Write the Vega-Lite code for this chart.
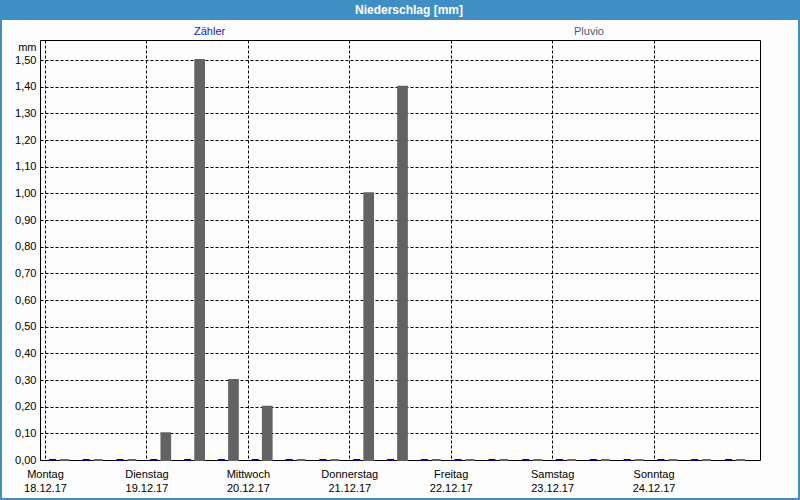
{
  "$schema": "https://vega.github.io/schema/vega-lite/v6.json",
  "width": 720,
  "height": 420,
  "autosize": {"type": "none"},
  "padding": {"left": 40, "top": 40, "right": 40, "bottom": 40},
  "background": "#fcfdfc",
  "config": {
    "font": "Liberation Sans",
    "view": {"stroke": "#000000", "strokeWidth": 1},
    "axis": {
      "labelFont": "Liberation Sans",
      "labelFontSize": 11,
      "labelColor": "#000000",
      "domain": false,
      "ticks": false,
      "grid": true,
      "gridColor": "#000000",
      "gridDash": [3, 2],
      "gridWidth": 1,
      "gridOpacity": 1
    }
  },
  "datasets": {
    "bars": [
      {"t": "2017-12-18T00:00", "series": "Zähler", "value": 0},
      {"t": "2017-12-18T08:00", "series": "Zähler", "value": 0},
      {"t": "2017-12-18T16:00", "series": "Zähler", "value": 0},
      {"t": "2017-12-19T00:00", "series": "Zähler", "value": 0},
      {"t": "2017-12-19T08:00", "series": "Zähler", "value": 0},
      {"t": "2017-12-19T16:00", "series": "Zähler", "value": 0},
      {"t": "2017-12-20T00:00", "series": "Zähler", "value": 0},
      {"t": "2017-12-20T08:00", "series": "Zähler", "value": 0},
      {"t": "2017-12-20T16:00", "series": "Zähler", "value": 0},
      {"t": "2017-12-21T00:00", "series": "Zähler", "value": 0},
      {"t": "2017-12-21T08:00", "series": "Zähler", "value": 0},
      {"t": "2017-12-21T16:00", "series": "Zähler", "value": 0},
      {"t": "2017-12-22T00:00", "series": "Zähler", "value": 0},
      {"t": "2017-12-22T08:00", "series": "Zähler", "value": 0},
      {"t": "2017-12-22T16:00", "series": "Zähler", "value": 0},
      {"t": "2017-12-23T00:00", "series": "Zähler", "value": 0},
      {"t": "2017-12-23T08:00", "series": "Zähler", "value": 0},
      {"t": "2017-12-23T16:00", "series": "Zähler", "value": 0},
      {"t": "2017-12-24T00:00", "series": "Zähler", "value": 0},
      {"t": "2017-12-24T08:00", "series": "Zähler", "value": 0},
      {"t": "2017-12-24T16:00", "series": "Zähler", "value": 0},
      {"t": "2017-12-18T00:00", "series": "Pluvio", "value": 0},
      {"t": "2017-12-18T08:00", "series": "Pluvio", "value": 0},
      {"t": "2017-12-18T16:00", "series": "Pluvio", "value": 0},
      {"t": "2017-12-19T00:00", "series": "Pluvio", "value": 0.1},
      {"t": "2017-12-19T08:00", "series": "Pluvio", "value": 1.5},
      {"t": "2017-12-19T16:00", "series": "Pluvio", "value": 0.3},
      {"t": "2017-12-20T00:00", "series": "Pluvio", "value": 0.2},
      {"t": "2017-12-20T08:00", "series": "Pluvio", "value": 0},
      {"t": "2017-12-20T16:00", "series": "Pluvio", "value": 0},
      {"t": "2017-12-21T00:00", "series": "Pluvio", "value": 1.0},
      {"t": "2017-12-21T08:00", "series": "Pluvio", "value": 1.4},
      {"t": "2017-12-21T16:00", "series": "Pluvio", "value": 0},
      {"t": "2017-12-22T00:00", "series": "Pluvio", "value": 0},
      {"t": "2017-12-22T08:00", "series": "Pluvio", "value": 0},
      {"t": "2017-12-22T16:00", "series": "Pluvio", "value": 0},
      {"t": "2017-12-23T00:00", "series": "Pluvio", "value": 0},
      {"t": "2017-12-23T08:00", "series": "Pluvio", "value": 0},
      {"t": "2017-12-23T16:00", "series": "Pluvio", "value": 0},
      {"t": "2017-12-24T00:00", "series": "Pluvio", "value": 0},
      {"t": "2017-12-24T08:00", "series": "Pluvio", "value": 0},
      {"t": "2017-12-24T16:00", "series": "Pluvio", "value": 0}
    ]
  },
  "data": {"name": "bars"},
  "encoding": {
    "x": {
      "field": "t",
      "type": "temporal",
      "scale": {
        "domain": [{"year": 2017, "month": 12, "date": 18}, {"year": 2017, "month": 12, "date": 25}],
        "nice": false
      },
      "axis": {
        "title": null,
        "values": [
          {"year": 2017, "month": 12, "date": 18},
          {"year": 2017, "month": 12, "date": 19},
          {"year": 2017, "month": 12, "date": 20},
          {"year": 2017, "month": 12, "date": 21},
          {"year": 2017, "month": 12, "date": 22},
          {"year": 2017, "month": 12, "date": 23},
          {"year": 2017, "month": 12, "date": 24}
        ],
        "labelExpr": "[['Sonntag','Montag','Dienstag','Mittwoch','Donnerstag','Freitag','Samstag'][day(datum.value)], timeFormat(datum.value, '%d.%m.%y')]",
        "labelAlign": "center",
        "labelBaseline": "top",
        "labelPadding": 8,
        "labelLineHeight": 14,
        "labelOverlap": false,
        "labelFlush": false,
        "labelBound": false
      }
    },
    "y": {
      "field": "value",
      "type": "quantitative",
      "scale": {"domain": [0, 1.575], "nice": false},
      "axis": {
        "values": [0, 0.1, 0.2, 0.3, 0.4, 0.5, 0.6, 0.7, 0.8, 0.9, 1.0, 1.1, 1.2, 1.3, 1.4, 1.5],
        "labelExpr": "replace(format(datum.value, '.2f'), '.', ',')",
        "labelPadding": 4,
        "labelOverlap": false,
        "title": "mm",
        "titleAngle": 0,
        "titleAlign": "right",
        "titleBaseline": "middle",
        "titleX": -4,
        "titleY": 7,
        "titleFont": "Liberation Sans",
        "titleFontSize": 11,
        "titleFontWeight": "normal",
        "titleColor": "#000000"
      }
    }
  },
  "layer": [
    {
      "transform": [{"filter": "datum.series === 'Zähler'"}],
      "mark": {"type": "bar", "width": 7, "xOffset": 7.4, "stroke": "#00009c", "strokeWidth": 2},
      "encoding": {
        "color": {
          "field": "series",
          "type": "nominal",
          "scale": {"domain": ["Zähler", "Pluvio"], "range": ["#00009c", "#636363"]},
          "legend": {
            "orient": "none",
            "legendX": 143,
            "legendY": -13.5,
            "direction": "horizontal",
            "title": null,
            "padding": 0,
            "symbolSize": 0,
            "symbolOpacity": 0,
            "symbolStrokeWidth": 0,
            "labelOffset": 0,
            "columnPadding": 337,
            "labelFont": "Liberation Sans",
            "labelFontSize": 11,
            "labelColor": {"expr": "datum.label === 'Zähler' ? '#1414c8' : '#56567a'"}
          }
        }
      }
    },
    {
      "transform": [{"filter": "datum.series === 'Pluvio'"}],
      "mark": {"type": "bar", "width": 8.7, "xOffset": 19.4, "stroke": "#636363", "strokeWidth": 2},
      "encoding": {
        "color": {"field": "series", "type": "nominal"}
      }
    },
    {
      "data": {"values": []},
      "mark": {"type": "point", "filled": true, "color": "#3f8fc5"},
      "encoding": {
        "shape": {
          "datum": "Niederschlag [mm]",
          "scale": {"range": ["M-1,-0.025H1V1.225H-1Z M-0.995,0.025V1.22H0.995V0.025Z"]},
          "legend": {
            "orient": "none",
            "legendX": -40,
            "legendY": -430,
            "title": null,
            "padding": 0,
            "symbolSize": 640000,
            "symbolStrokeWidth": 0,
            "symbolFillColor": "#3f8fc5",
            "symbolOpacity": 1,
            "labelOffset": -391,
            "labelAlign": "center",
            "labelColor": "#ffffff",
            "labelFont": "Liberation Sans",
            "labelFontSize": 12,
            "labelFontWeight": "bold",
            "labelLimit": 0
          }
        }
      }
    }
  ]
}
